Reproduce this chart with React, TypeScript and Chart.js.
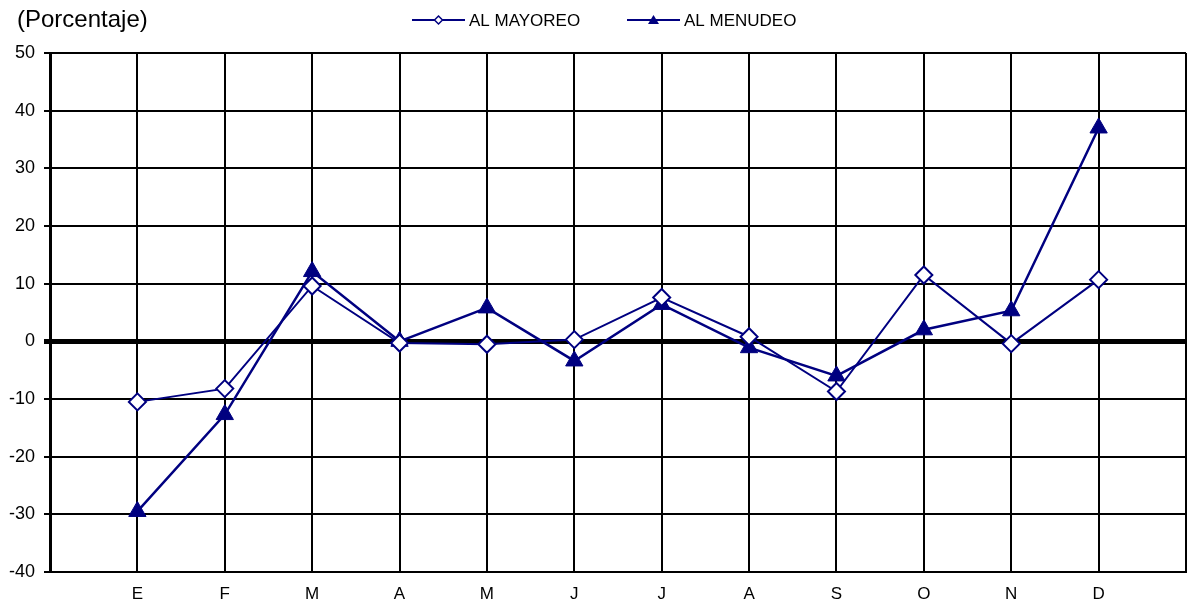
import React, { useEffect, useRef } from "react";
import { Chart, registerables } from "chart.js";

Chart.register(...registerables);

const months = ["E", "F", "M", "A", "M", "J", "J", "A", "S", "O", "N", "D"];
const mayoreo = [-10.5, -8.2, 9.6, -0.3, -0.5, 0.3, 7.6, 0.8, -8.7, 11.5, -0.4, 10.7];
const menudeo = [-29.5, -12.7, 12.1, 0.0, 5.8, -3.4, 6.4, -1.1, -6.0, 2.0, 5.3, 37.0];
const yTicks = { min: -40, max: 50, step: 10 };
const titleText = "(Porcentaje)";
const seriesNames = ["AL MAYOREO", "AL MENUDEO"];

const NAVY = "#000080";
const FONT = "'Liberation Sans', Arial, sans-serif";

const overlay = {
  id: "overlay",
  afterDraw(chart: any) {
    const ctx = chart.ctx;
    ctx.save();
    ctx.fillStyle = "#000";
    ctx.font = `24px ${FONT}`;
    ctx.textBaseline = "middle";
    ctx.textAlign = "left";
    ctx.fillText(titleText, 17, 20);

    const items = [
      { x: 412, name: seriesNames[0], kind: "diamond" },
      { x: 627, name: seriesNames[1], kind: "triangle" },
    ];
    const y = 20;
    items.forEach((it) => {
      ctx.strokeStyle = NAVY;
      ctx.lineWidth = 2;
      ctx.beginPath();
      ctx.moveTo(it.x, y);
      ctx.lineTo(it.x + 53, y);
      ctx.stroke();
      const cx = it.x + 26.5;
      if (it.kind === "diamond") {
        ctx.fillStyle = "#fff";
        ctx.lineWidth = 1.5;
        ctx.beginPath();
        ctx.moveTo(cx, y - 4);
        ctx.lineTo(cx + 4, y);
        ctx.lineTo(cx, y + 4);
        ctx.lineTo(cx - 4, y);
        ctx.closePath();
        ctx.fill();
        ctx.stroke();
      } else {
        ctx.fillStyle = NAVY;
        ctx.beginPath();
        ctx.moveTo(cx, y - 5);
        ctx.lineTo(cx + 5.5, y + 4);
        ctx.lineTo(cx - 5.5, y + 4);
        ctx.closePath();
        ctx.fill();
      }
      ctx.fillStyle = "#000";
      ctx.font = `17px ${FONT}`;
      ctx.textAlign = "left";
      ctx.fillText(it.name, it.x + 57, y + 1);
    });
    ctx.restore();
  },
};

export default function App() {
  const ref = useRef<HTMLCanvasElement | null>(null);
  useEffect(() => {
    document.body.style.margin = "0";
    document.body.style.overflow = "hidden";
    const labels = ["", ...months, ""];
    const chart = new Chart(ref.current as HTMLCanvasElement, {
      type: "line",
      data: {
        labels,
        datasets: [
          {
            label: seriesNames[0],
            data: [null, ...mayoreo, null],
            borderColor: NAVY,
            borderWidth: 2,
            pointStyle: "rectRot",
            pointRadius: 8.5,
            pointBackgroundColor: "#fff",
            pointBorderColor: NAVY,
            pointBorderWidth: 2,
            tension: 0,
          },
          {
            label: seriesNames[1],
            data: [null, ...menudeo, null],
            borderColor: NAVY,
            borderWidth: 2.5,
            pointStyle: "triangle",
            pointRadius: 10,
            pointBackgroundColor: NAVY,
            pointBorderColor: NAVY,
            pointBorderWidth: 1,
            tension: 0,
          },
        ],
      },
      options: {
        animation: false,
        responsive: true,
        maintainAspectRatio: false,
        layout: { padding: { top: 53, left: 0, right: 0, bottom: 0 } },
        plugins: { legend: { display: false }, tooltip: { enabled: false }, title: { display: false } },
        scales: {
          x: {
            type: "category",
            offset: false,
            grid: { color: "#000", lineWidth: 2, drawTicks: false },
            border: { display: true, color: "#000", width: 2 },
            ticks: {
              color: "#000",
              font: { family: FONT, size: 17 },
              padding: 12,
              autoSkip: false,
              maxRotation: 0,
            },
            afterFit: (s: any) => {
              s.height = 36;
            },
          },
          y: {
            min: yTicks.min,
            max: yTicks.max,
            grid: {
              color: "#000",
              lineWidth: (c: any) => (c.tick && c.tick.value === 0 ? 5 : 2),
              drawTicks: true,
              tickLength: 6,
            },
            border: { display: true, color: "#000", width: 3 },
            ticks: {
              stepSize: yTicks.step,
              color: "#000",
              font: { family: FONT, size: 18 },
              padding: 9,
            },
            afterFit: (s: any) => {
              s.width = 50;
            },
          },
        },
      },
      plugins: [overlay],
    });
    return () => chart.destroy();
  }, []);
  return (
    <div style={{ position: "absolute", left: 0, top: 0, width: 1188, height: 608, overflow: "hidden" }}>
      <div style={{ position: "relative", width: 1198, height: 608 }}>
        <canvas ref={ref} />
      </div>
    </div>
  );
}
